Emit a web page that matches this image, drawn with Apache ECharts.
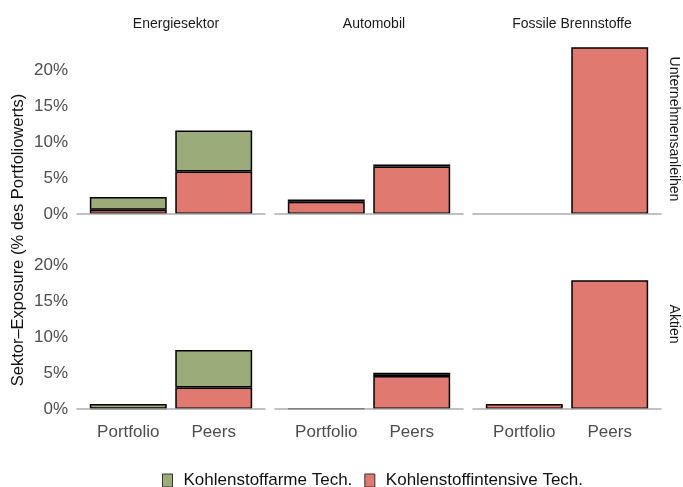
<!DOCTYPE html>
<html>
<head>
<meta charset="utf-8">
<script src="https://cdn.jsdelivr.net/npm/echarts@6/dist/echarts.min.js"></script>
<style>html,body{margin:0;padding:0;background:#fff}#c{width:683px;height:487px}</style>
</head>
<body>
<div id="c"></div>
<script>
// ---- data (percent of portfolio value) ----
const sectors = ['Energiesektor', 'Automobil', 'Fossile Brennstoffe'];
const assetTypes = ['Unternehmensanleihen', 'Aktien'];
const groups = ['Portfolio', 'Peers'];
const seriesNames = ['Kohlenstoffarme Tech.', 'Kohlenstoffintensive Tech.'];
const yTicks = [0, 5, 10, 15, 20];
// [sector][group]
const bondsHigh = [[0.6, 5.9], [1.7, 6.6], [0, 23.2]];
const bondsLow = [[1.75, 5.7], [0.3, 0.3], [0, 0]];
const equityHigh = [[0.05, 3.0], [0.05, 4.6], [0.7, 17.9]];
const equityLow = [[0.65, 5.2], [0, 0.45], [0, 0]];

const highByRow = [bondsHigh, equityHigh];
const lowByRow = [bondsLow, equityLow];

// ---- layout ----
const font = 'Liberation Sans, Arial, Helvetica, sans-serif';
const panelLeft = [77, 275, 473];
const panelW = 188;
const panelTop = [40, 235];
const panelH = 174;
const yMax = 24.2;
const xMin = 0.4, xMax = 2.6;
const barW = 0.9 * panelW / (xMax - xMin);
const colLow = '#9bab79';
const colHigh = '#e07970';

const grid = [], xAxis = [], yAxis = [], series = [], title = [];
let idx = 0;
for (let r = 0; r < 2; r++) {
  for (let c = 0; c < 3; c++) {
    grid.push({left: panelLeft[c], top: panelTop[r], width: panelW, height: panelH, containLabel: false});
    xAxis.push({
      type: 'value', gridIndex: idx, min: xMin, max: xMax, z: 5,
      axisLine: {show: true, onZero: false, lineStyle: {color: '#adadad', width: 1.6}},
      axisTick: {show: false}, splitLine: {show: false},
      axisLabel: {
        show: r === 1, customValues: [1, 2], margin: 15,
        formatter: v => groups[Math.round(v) - 1] || '',
        color: '#4d4d4d', fontSize: 17, fontFamily: font
      }
    });
    yAxis.push({
      type: 'value', gridIndex: idx, min: 0, max: yMax, interval: 5,
      axisLine: {show: false}, axisTick: {show: false}, splitLine: {show: false},
      axisLabel: {
        show: c === 0, customValues: yTicks,
        formatter: v => v + '%', color: '#4d4d4d', fontSize: 17, fontFamily: font, margin: 9
      }
    });
    const hi = highByRow[r][c], lo = lowByRow[r][c];
    // value first, x position second (so the stack runs on the y values)
    const mk = (vals) => vals.map((v, i) => [v > 0 ? v : null, i + 1]);
    const common = {
      type: 'bar', stack: 's' + idx, xAxisIndex: idx, yAxisIndex: idx,
      barWidth: barW, encode: {x: 1, y: 0}
    };
    series.push(Object.assign({}, common, {
      name: seriesNames[1], data: mk(hi),
      itemStyle: {color: colHigh, borderColor: '#000', borderWidth: 1.5}
    }));
    series.push(Object.assign({}, common, {
      name: seriesNames[0], data: mk(lo),
      itemStyle: {color: colLow, borderColor: '#000', borderWidth: 1.5}
    }));
    idx++;
  }
}
sectors.forEach((s, c) => {
  title.push({
    text: s, left: panelLeft[c] + panelW / 2, top: 12, textAlign: 'center',
    textStyle: {fontSize: 14, fontWeight: 'normal', color: '#1a1a1a', fontFamily: font}
  });
});

const graphic = [{
  type: 'text', x: 18, y: 240, rotation: Math.PI / 2,
  style: {text: 'Sektor\u2013Exposure (% des Portfoliowerts)', fill: '#111', font: '16.5px ' + font,
    textAlign: 'center', textVerticalAlign: 'middle'}
}];
assetTypes.forEach((a, r) => {
  graphic.push({
    type: 'text', x: 674, y: panelTop[r] + panelH / 2 + 2, rotation: -Math.PI / 2,
    style: {text: a, fill: '#1a1a1a', font: '14px ' + font, textAlign: 'center', textVerticalAlign: 'middle'}
  });
});

const chart = echarts.init(document.getElementById('c'), null, {renderer: 'canvas'});
chart.setOption({
  animation: false,
  backgroundColor: '#fff',
  title: title,
  grid: grid, xAxis: xAxis, yAxis: yAxis, series: series,
  legend: {
    data: seriesNames, left: 157, top: 467, icon: 'rect', itemWidth: 10, itemHeight: 13, itemGap: 12,
    textStyle: {fontSize: 17, color: '#111', fontFamily: font, padding: [0, 0, 0, 6]},
    itemStyle: {borderColor: '#333', borderWidth: 1}
  },
  graphic: graphic
});
</script>
</body>
</html>
